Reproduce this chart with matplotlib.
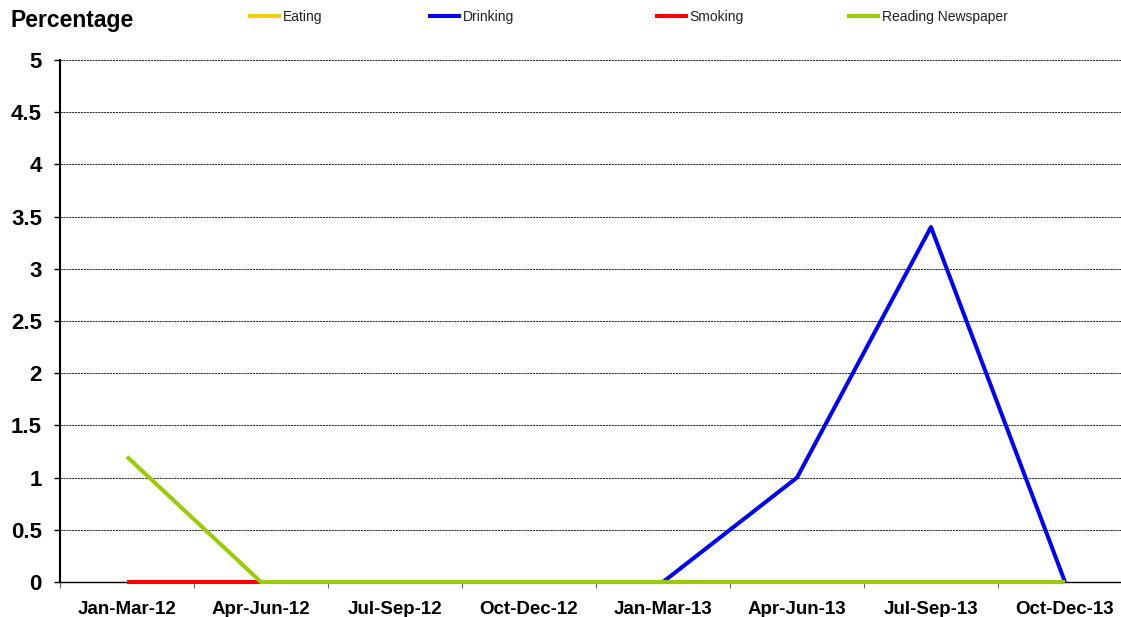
import matplotlib
matplotlib.use("Agg")
import matplotlib.pyplot as plt

plt.rcParams["font.family"] = ["Liberation Sans", "DejaVu Sans"]

quarters = ["Jan-Mar-12", "Apr-Jun-12", "Jul-Sep-12", "Oct-Dec-12",
            "Jan-Mar-13", "Apr-Jun-13", "Jul-Sep-13", "Oct-Dec-13"]
eating = [0, 0, 0, 0, 0, 0, 0, 0]
drinking = [0, 0, 0, 0, 0, 1, 3.4, 0]
smoking = [0, 0, 0, 0, 0, 0, 0, 0]
reading = [1.2, 0, 0, 0, 0, 0, 0, 0]
yticks = [0, 0.5, 1, 1.5, 2, 2.5, 3, 3.5, 4, 4.5, 5]

fig = plt.figure(figsize=(11.21, 6.17), dpi=100)
# axes runs a bit past the right edge, like the original screenshot
ax = fig.add_axes([60 / 1121, 35 / 617, 1072 / 1121, 522 / 617])

x = list(range(len(quarters)))
series = [("Eating", eating, "#FFCC00"),
          ("Drinking", drinking, "#0000FF"),
          ("Smoking", smoking, "#FF0000"),
          ("Reading Newspaper", reading, "#99CC00")]
lines = []
for name, vals, col in series:
    ln, = ax.plot(x, vals, color=col, lw=2.9, label=name,
                  solid_capstyle="butt", clip_on=False, zorder=3)
    lines.append(ln)

ax.set_xlim(-0.5, len(quarters) - 0.5)
ax.set_ylim(0, 5)
ax.set_yticks(yticks)
ax.set_yticklabels([("%g" % v) for v in yticks], fontsize=16, fontweight="bold")
ax.set_xticks(x)
ax.set_xticklabels(quarters, fontsize=13.5, fontweight="bold")
ax.set_xticks([i - 0.5 for i in range(len(quarters) + 1)], minor=True)
ax.tick_params(axis="x", which="major", length=0, pad=13.5)
ax.tick_params(axis="x", which="minor", length=4, width=0.8, color="#666666")
ax.tick_params(axis="y", length=4, width=1.0, pad=9)

ax.grid(axis="y", color="black", linestyle=(0, (2.5, 1)), linewidth=0.6)
ax.set_axisbelow(True)
for s in ["top", "right"]:
    ax.spines[s].set_visible(False)
ax.spines["left"].set_linewidth(1.5)
ax.spines["bottom"].set_linewidth(1.0)

fig.text(10 / 1121, 1 - 20 / 617, "Percentage", fontsize=16.5, fontweight="bold",
         va="center", ha="left")

# one small legend per series, spread along the top like the original
leg_x = [248, 428, 655, 847]
for ln, lx in zip(lines, leg_x):
    lg = fig.legend(handles=[ln], loc="center left",
                    bbox_to_anchor=(lx / 1121, 1 - 17 / 617),
                    frameon=False, fontsize=10, handlelength=2.4,
                    handletextpad=0.1, borderaxespad=0, borderpad=0)
    for t in lg.get_texts():
        t.set_color("#222222")

plt.savefig("out.png", dpi=100)
